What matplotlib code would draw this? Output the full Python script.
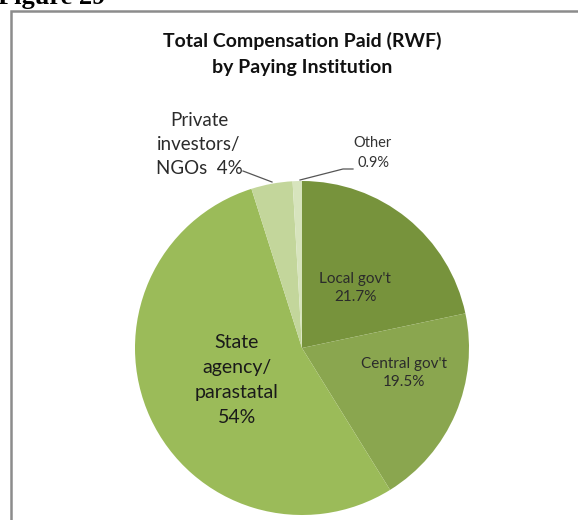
import matplotlib
matplotlib.use("Agg")
import matplotlib.pyplot as plt
from matplotlib.patches import Rectangle

# данные с картинки
labels = ["Local gov't", "Central gov't", "State\nagency/\nparastatal", "Private\ninvestors/\nNGOs", "Other"]
shares = [21.7, 19.5, 54, 4, 0.9]
pct_text = ["21.7%", "19.5%", "54%", "4%", "0.9%"]
colors = ["#77933C", "#8AA64F", "#9BBB59", "#C3D69B", "#D7E4BD"]

plt.rcParams['font.family'] = ['Lato', 'DejaVu Sans']

W, H = 578, 520
fig = plt.figure(figsize=(W / 100, H / 100), dpi=100)

# центр пирога и радиус в пикселях
cx, cy, r = 302, 348, 167
ax = fig.add_axes([(cx - r) / W, (H - cy - r) / H, 2 * r / W, 2 * r / H])
wedges, _ = ax.pie(shares, colors=colors, startangle=90, counterclock=False,
                   radius=1, wedgeprops=dict(linewidth=0))
ax.set_xlim(-1, 1)
ax.set_ylim(-1, 1)
ax.axis('off')

def px(x, y):  # пиксели -> координаты осей пирога
    return ((x - cx) / r, (cy - y) / r)

# подписи внутри
ax.text(*px(355, 288), labels[0] + "\n" + pct_text[0], ha='center', va='center',
        fontsize=11, color='#2b2b2b', linespacing=1.4)
ax.text(*px(404, 373), labels[1] + "\n" + pct_text[1], ha='center', va='center',
        fontsize=11, color='#2b2b2b', linespacing=1.4)
ax.text(*px(237, 380), labels[2] + "\n" + pct_text[2], ha='center', va='center',
        fontsize=14, color='#1a1a1a', linespacing=1.55)

# подписи снаружи с выносками
ax.text(*px(199, 144), labels[3] + "  " + pct_text[3], ha='center', va='center',
        fontsize=13.5, color='#2b2b2b', linespacing=1.5, clip_on=False)
ax.plot(*zip(px(243, 171), px(272, 182)), color='#555555', lw=0.9, clip_on=False)
ax.text(*px(373, 153), labels[4] + "\n" + pct_text[4], ha='center', va='center',
        fontsize=10.5, color='#333333', linespacing=1.6, clip_on=False)
ax.plot(*zip(px(300, 180), px(343, 169), px(353, 169)), color='#555555', lw=0.9, clip_on=False)

# заголовок
fig.text(cx / W, 1 - 54 / H, "Total Compensation Paid (RWF)\nby Paying Institution",
         ha='center', va='center', fontsize=14, fontweight='bold', color='#111111',
         linespacing=1.7)

# рамка диаграммы
fig.patches.append(Rectangle((11 / W, -0.1), 1.2, 1 - 11 / H + 0.1, transform=fig.transFigure,
                             fill=False, edgecolor='#8c8c8c', linewidth=1.8))

# обрезанная надпись сверху
fig.text(-2 / W, 1 - 4 / H, "Figure 29", ha='left', va='baseline', fontsize=19,
         fontweight='bold', family='Liberation Serif', color='black')

fig.savefig("out.png", dpi=100)
